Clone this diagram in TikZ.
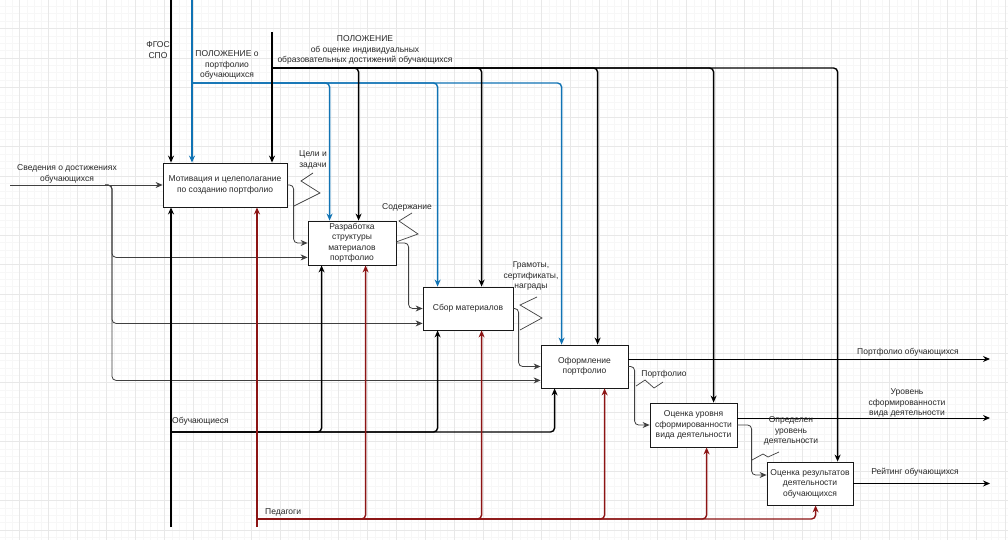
\documentclass[tikz,border=0pt]{standalone}
\usepackage{fontspec}
\setmainfont{Liberation Sans}
\usetikzlibrary{arrows.meta,calc}
\definecolor{blu}{RGB}{16,115,180}
\definecolor{dred}{RGB}{140,20,20}
\definecolor{txt}{RGB}{40,40,40}
\begin{document}
\begin{tikzpicture}[x=1pt,y=-1pt,
  box/.style={draw=black!90, line width=0.8pt, fill=white, align=center, font=\fontsize{8.5}{10.5}\selectfont, text=txt, inner sep=1pt},
  lbl/.style={align=center, font=\fontsize{8.5}{10.5}\selectfont, text=txt, inner sep=0pt},
  arr/.style={-{Stealth[length=7pt,width=6pt]}},
  ctl/.style={line width=1.4pt, draw=black, arr, rounded corners=4pt},
  bl/.style={ctl, draw=blu},
  mech/.style={ctl, draw=dred},
  flow/.style={line width=0.8pt, draw=black!75, arr, rounded corners=4pt},
  outp/.style={line width=1pt, draw=black, arr},
  sq/.style={line width=0.7pt, draw=black!75},
  gmin/.style={draw=black!3, line width=0.5pt},
  gmaj/.style={draw=black!9, line width=0.6pt},
]
\useasboundingbox (0,0) rectangle (1008,540);
\fill[white] (0,0) rectangle (1008,540);
% grid
\foreach \k in {0,...,140}{\pgfmathsetmacro\xx{-9.5+\k*7.25}\draw[gmin] (\xx,0) -- (\xx,540);}
\foreach \k in {0,...,75}{\pgfmathsetmacro\yy{-1+\k*7.375}\draw[gmin] (0,\yy) -- (1008,\yy);}
\foreach \k in {0,...,35}{\pgfmathsetmacro\xx{-9.5+\k*29}\draw[gmaj] (\xx,0) -- (\xx,540);}
\foreach \k in {0,...,19}{\pgfmathsetmacro\yy{-1+\k*29.5}\draw[gmaj] (0,\yy) -- (1008,\yy);}

% boxes
\node[box, minimum width=124pt, minimum height=44pt] (b1) at (225,185) {Мотивация и целеполагание\\по созданию портфолио};
\node[box, minimum width=88pt, minimum height=44pt] (b2) at (352,243) {Разработка\\структуры\\материалов\\портфолио};
\node[box, minimum width=90pt, minimum height=43pt] (b3) at (468,308.5) {Сбор материалов};
\node[box, minimum width=87pt, minimum height=43pt] (b4) at (584.5,366.5) {Оформление\\портфолио};
\node[box, minimum width=87pt, minimum height=44pt] (b5) at (693.5,425) {Оценка уровня\\сформированности\\вида деятельности};
\node[box, minimum width=86pt, minimum height=43pt] (b6) at (810,483.5) {Оценка результатов\\деятельности\\обучающихся};

% input
\coordinate (inL) at (10,185);
\coordinate (inB) at (105,185);
\coordinate (inX) at (112,185);
\coordinate (b2in2) at ($(b2.south west)+(0,-8)$);
\coordinate (b3in2) at ($(b3.south west)+(0,-7)$);
\coordinate (b4in2) at ($(b4.south west)+(0,-8)$);
\draw[flow] (inL) -- (b1.west);
\draw[flow] (inB) -| (inX |- b2in2) -- (b2in2);
\draw[flow] (inB) -| (inX |- b3in2) -- (b3in2);
\draw[flow] (inB) -| (inX |- b4in2) -- (b4in2);

% controls
\coordinate (fgos) at (171,0);
\draw[ctl] (fgos) -- (fgos |- b1.north);
\coordinate (ppv) at (192,0);
\draw[bl] (ppv) -- (ppv |- b1.north);
\coordinate (ppbus) at (192,83);
\draw[bl] (ppbus) -| ($(b2.north west)+(22,0)$);
\draw[bl] (ppbus) -| ($(b3.north west)+(15,0)$);
\draw[bl] (ppbus) -| ($(b4.north west)+(21,0)$);
\coordinate (pk) at (272,32);
\draw[ctl] (pk) -- (pk |- b1.north);
\coordinate (pkbus) at (272,68);
\draw[ctl] (pkbus) -| ($(b2.north west)+(51,0)$);
\draw[ctl] (pkbus) -| ($(b3.north west)+(59,0)$);
\draw[ctl] (pkbus) -| ($(b4.north west)+(57,0)$);
\draw[ctl] (pkbus) -| ($(b5.north west)+(64,0)$);
\draw[ctl] (pkbus) -| ($(b6.north west)+(71,0)$);

% mechanisms
\coordinate (ob) at (171,527);
\draw[ctl] (ob) -- (ob |- b1.south);
\coordinate (obbus) at (171,432);
\draw[ctl] (obbus) -| ($(b2.south west)+(14,0)$);
\draw[ctl] (obbus) -| ($(b3.south west)+(15,0)$);
\draw[ctl] (obbus) -| ($(b4.south west)+(14,0)$);
\coordinate (pd) at (257,527);
\draw[mech] (pd) -- (pd |- b1.south);
\coordinate (pdbus) at (257,519);
\draw[mech] (pdbus) -| ($(b2.south west)+(58,0)$);
\draw[mech] (pdbus) -| ($(b3.south west)+(59,0)$);
\draw[mech] (pdbus) -| ($(b4.south west)+(64,0)$);
\draw[mech] (pdbus) -| ($(b5.south west)+(57,0)$);
\draw[mech] (pdbus) -| ($(b6.south west)+(49,0)$);

% flows between boxes
\draw[flow] (b1.east) -| ($(b2.west)+(-14,0)$) -- (b2.west);
\draw[flow] (b2.east) -| ($(b3.west)+(-14,0)$) -- (b3.west);
\draw[flow] (b3.east) -| ($(b4.west)+(-22,0)$) -- (b4.west);
\draw[flow] (b4.east) -| ($(b5.west)+(-15,0)$) -- (b5.west);
\coordinate (b6in) at ($(b6.west)+(0,-8.5)$);
\draw[flow] (b5.east) -| ($(b6in)+(-15,0)$) -- (b6in);

% outputs
\coordinate (o1) at (990,359);
\coordinate (o2) at (990,418);
\coordinate (o3) at (990,483.5);
\draw[outp] (b4.east |- o1) -- (o1);
\draw[outp] (b5.east |- o2) -- (o2);
\draw[outp] (b6.east) -- (o3);

% squiggles
\draw[sq] (313,173) -- (301,181) -- (320,193) -- (294,206);
\draw[sq] (412,213) -- (399,221) -- (418,234) -- (396,242);
\draw[sq] (537,297) -- (520,305) -- (542,318) -- (520,330);
\draw[sq] (636,386) -- (645,380) -- (654,388) -- (663,382);
\draw[sq] (752,460) -- (763,454) -- (768,457) -- (779,452);

% labels
\node[lbl] (lsv) at (67,174) {Сведения о достижениях\\обучающихся};
\node[lbl] (lfg) at (158,50) {ФГОС\\СПО};
\node[lbl] (lpp) at (227,65) {ПОЛОЖЕНИЕ о\\портфолио\\обучающихся};
\node[lbl] (lpk) at (365,50) {ПОЛОЖЕНИЕ\\об оценке индивидуальных\\образовательных достижений обучающихся};
\node[lbl] (lcz) at (313,160) {Цели и\\задачи};
\node[lbl] (lsd) at (407,207) {Содержание};
\node[lbl] (lgr) at (531,276) {Грамоты,\\сертификаты,\\награды};
\node[lbl] (lpf) at (664,374) {Портфолио};
\node[lbl] (lpo) at (908,352) {Портфолио обучающихся};
\node[lbl] (lur) at (907,403) {Уровень\\сформированности\\вида деятельности};
\node[lbl] (lop) at (791,431) {Определен\\уровень\\деятельности};
\node[lbl] (lrt) at (915,472) {Рейтинг обучающихся};
\node[lbl, anchor=west] (lob) at (172,421) {Обучающиеся};
\node[lbl, anchor=west] (lpd) at (265,512) {Педагоги};
\end{tikzpicture}
\end{document}
